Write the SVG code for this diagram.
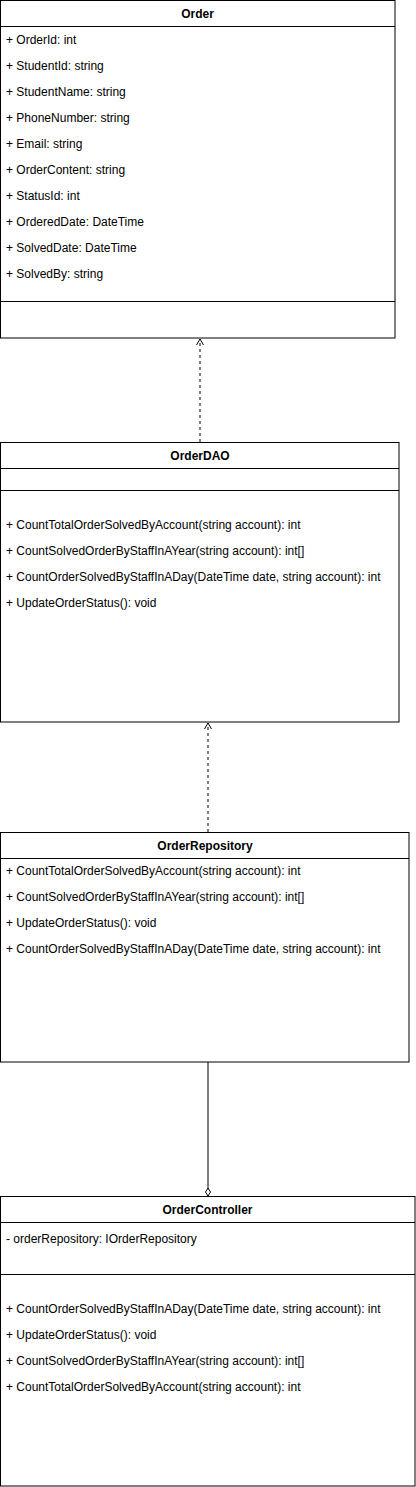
<svg xmlns="http://www.w3.org/2000/svg" width="416" height="1487" viewBox="0 0 416 1487">
<style>
.box{fill:#fff;stroke:#000;stroke-width:1}
.ln{stroke:#000;stroke-width:1;fill:none}
.t{font-family:"Liberation Sans",Arial,sans-serif;font-size:12px;fill:#000}
.h{font-family:"Liberation Sans",Arial,sans-serif;font-size:12px;font-weight:bold;fill:#000;text-anchor:middle}
.dash{stroke:#000;stroke-width:1;fill:none;stroke-dasharray:3,3}
</style>
<defs>
<marker id="open" markerWidth="10" markerHeight="10" refX="7" refY="4" orient="auto" markerUnits="userSpaceOnUse">
<path d="M1,0.5 L7,4 L1,7.5" fill="none" stroke="#000" stroke-width="1"/>
</marker>
<marker id="diamond" markerWidth="14" markerHeight="10" refX="8" refY="3" orient="auto" markerUnits="userSpaceOnUse">
<path d="M0,3 L4,0.5 L8,3 L4,5.5 Z" fill="#fff" stroke="#000" stroke-width="1"/>
</marker>
</defs>
<g id="connectors">
<line class="dash" x1="200" y1="442" x2="200" y2="339" marker-end="url(#open)"/>
<line class="dash" x1="208" y1="832" x2="208" y2="723" marker-end="url(#open)"/>
<line class="ln" x1="208" y1="1062" x2="208" y2="1196" marker-end="url(#diamond)"/>
</g>
<g id="Order">
<rect class="box" x="0.5" y="0.5" width="394.5" height="337.5"/>
<line class="ln" x1="0.5" y1="26.5" x2="395" y2="26.5"/>
<line class="ln" x1="0.5" y1="301.5" x2="395" y2="301.5"/>
<text class="h" x="197.5" y="18">Order</text>
<text class="t" x="6" y="44">+ OrderId: int</text>
<text class="t" x="6" y="70">+ StudentId: string</text>
<text class="t" x="6" y="96">+ StudentName: string</text>
<text class="t" x="6" y="122">+ PhoneNumber: string</text>
<text class="t" x="6" y="148">+ Email: string</text>
<text class="t" x="6" y="174">+ OrderContent: string</text>
<text class="t" x="6" y="200">+ StatusId: int</text>
<text class="t" x="6" y="226">+ OrderedDate: DateTime</text>
<text class="t" x="6" y="252">+ SolvedDate: DateTime</text>
<text class="t" x="6" y="278">+ SolvedBy: string</text>
</g>
<g id="OrderDAO">
<rect class="box" x="0.5" y="442.5" width="398.5" height="279.5"/>
<line class="ln" x1="0.5" y1="468.5" x2="399" y2="468.5"/>
<line class="ln" x1="0.5" y1="490.5" x2="399" y2="490.5"/>
<text class="h" x="200" y="460">OrderDAO</text>
<text class="t" x="6" y="529">+ CountTotalOrderSolvedByAccount(string account): int</text>
<text class="t" x="6" y="555">+ CountSolvedOrderByStaffInAYear(string account): int[]</text>
<text class="t" x="6" y="581">+ CountOrderSolvedByStaffInADay(DateTime date, string account): int</text>
<text class="t" x="6" y="607">+ UpdateOrderStatus(): void</text>
</g>
<g id="OrderRepository">
<rect class="box" x="0.5" y="832.5" width="408.5" height="229.5"/>
<line class="ln" x1="0.5" y1="858.5" x2="409" y2="858.5"/>
<text class="h" x="205" y="850">OrderRepository</text>
<text class="t" x="6" y="875">+ CountTotalOrderSolvedByAccount(string account): int</text>
<text class="t" x="6" y="901">+ CountSolvedOrderByStaffInAYear(string account): int[]</text>
<text class="t" x="6" y="927">+ UpdateOrderStatus(): void</text>
<text class="t" x="6" y="953">+ CountOrderSolvedByStaffInADay(DateTime date, string account): int</text>
</g>
<g id="OrderController">
<rect class="box" x="0.5" y="1196.5" width="414.5" height="289.5"/>
<line class="ln" x1="0.5" y1="1222.5" x2="415" y2="1222.5"/>
<line class="ln" x1="0.5" y1="1274.5" x2="415" y2="1274.5"/>
<text class="h" x="207.5" y="1214">OrderController</text>
<text class="t" x="6" y="1243">- orderRepository: IOrderRepository</text>
<text class="t" x="6" y="1313">+ CountOrderSolvedByStaffInADay(DateTime date, string account): int</text>
<text class="t" x="6" y="1339">+ UpdateOrderStatus(): void</text>
<text class="t" x="6" y="1365">+ CountSolvedOrderByStaffInAYear(string account): int[]</text>
<text class="t" x="6" y="1391">+ CountTotalOrderSolvedByAccount(string account): int</text>
</g>
</svg>
